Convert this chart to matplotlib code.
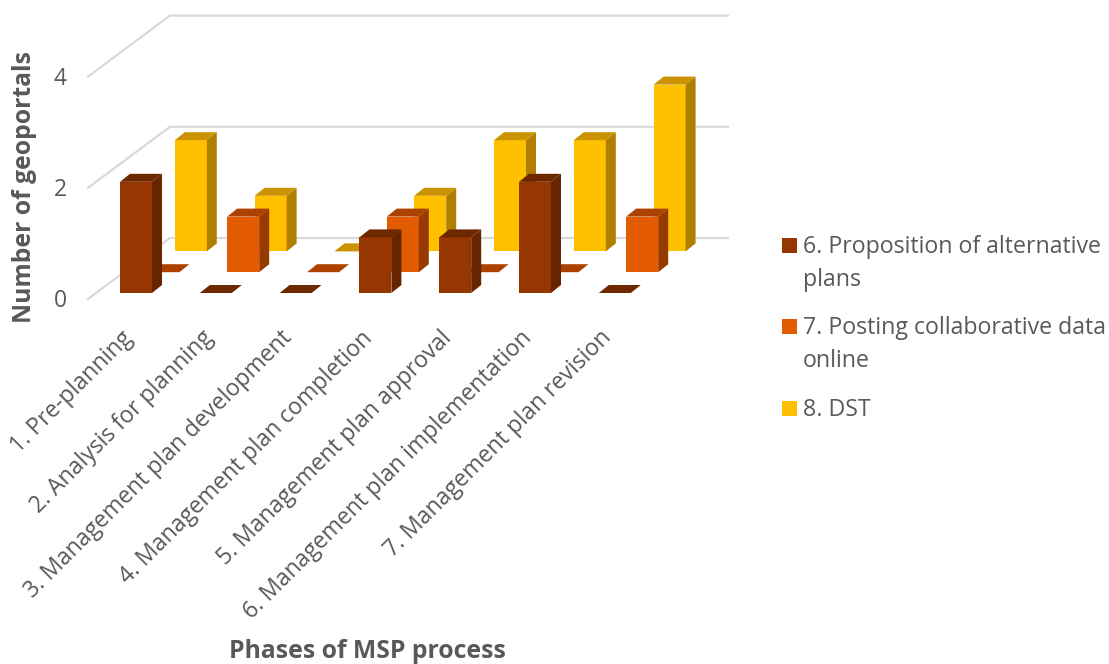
import matplotlib
matplotlib.use("Agg")
import matplotlib.pyplot as plt
from matplotlib.patches import Polygon, Rectangle

categories = ["1. Pre-planning", "2. Analysis for planning", "3. Management plan development",
              "4. Management plan completion", "5. Management plan approval",
              "6. Management plan implementation", "7. Management plan revision"]
series_names = ["6. Proposition of alternative\nplans", "7. Posting collaborative data\nonline", "8. DST"]
s6 = [2, 0, 0, 1, 1, 2, 0]
s7 = [0, 1, 0, 1, 0, 0, 1]
s8 = [2, 1, 0, 1, 2, 2, 3]
y_ticks = [0, 2, 4]
x_title = "Phases of MSP process"
y_title = "Number of geoportals"

plt.rcParams['font.family'] = ['Open Sans', 'DejaVu Sans']
W, H = 1109, 664
fig = plt.figure(figsize=(W/100, H/100), dpi=100)
ax = fig.add_axes([0, 0, 1, 1])
ax.set_xlim(0, W); ax.set_ylim(H, 0); ax.axis('off')

TXT = '#595959'; GRID = '#D9D9D9'
# projection parameters of the pseudo-3D scene
X0, Y0 = 120, 293      # front-left corner of first category, front series
DX = 79.8              # category step
UNIT = 55.6            # pixels per value unit
SX, SY = 27.4, -20.8   # shift per series (going back)
BW = 32                # bar front width
DPX, DPY = 10, -8      # bar depth
WALL0, WALLY = (88, 299), (82, -61)
WALL_R = 728

def prj(cat, ser, val):
    return X0 + DX*cat + SX*ser, Y0 + SY*ser - UNIT*val

# walls and gridlines
for t in y_ticks:
    yy = WALL0[1] - UNIT*t
    ax.plot([WALL0[0], WALL0[0]+WALLY[0], WALL_R], [yy, yy+WALLY[1], yy+WALLY[1]],
            color=GRID, lw=1.6, zorder=1, solid_joinstyle='miter')
    ax.text(60, yy+2, str(t), color=TXT, fontsize=16.5, ha='center', va='center')

styles = [('#963600', '#662400', '#6E2800'),
          ('#E25B00', '#963A00', '#AD4200'),
          ('#FFC000', '#B07F00', '#CC9200')]
z = 2
for ser, vals in sorted(enumerate([s6, s7, s8]), key=lambda p: -p[0]):
    front, side, top = styles[ser]
    for c, v in enumerate(vals):
        x, yb = prj(c, ser, 0)
        _, yt = prj(c, ser, v)
        if v > 0:
            ax.add_patch(Polygon([(x, yb), (x+BW, yb), (x+BW, yt), (x, yt)], fc=front, ec='none', zorder=z))
            ax.add_patch(Polygon([(x+BW, yb), (x+BW+DPX, yb+DPY), (x+BW+DPX, yt+DPY), (x+BW, yt)],
                                 fc=side, ec='none', zorder=z))
        ax.add_patch(Polygon([(x, yt), (x+BW, yt), (x+BW+DPX, yt+DPY), (x+DPX, yt+DPY)],
                             fc=top, ec='none', zorder=z))
        z += 1

# category labels
for c, lab in enumerate(categories):
    x, y = prj(c, 0, 0)
    ax.text(x+1, y+33, lab, rotation=45, rotation_mode='anchor', ha='right', va='top',
            color=TXT, fontsize=16.6)

ax.text(25, 187, y_title, rotation=90, ha='center', va='center', color=TXT,
        fontsize=17.8, fontweight='bold')
ax.text(367, 651, x_title, ha='center', va='center', color=TXT, fontsize=17.8, fontweight='bold')

# legend
leg_y = [247, 328, 410]
for name, ly, st in zip(series_names, leg_y, styles):
    ax.add_patch(Rectangle((782, ly-9), 14.5, 14.5, fc=st[0], ec='none'))
    for i, line in enumerate(name.split('\n')):
        ax.text(803, ly+i*33, line, color=TXT, fontsize=16.7, ha='left', va='center')

fig.savefig('out.png', dpi=100, facecolor='white')
